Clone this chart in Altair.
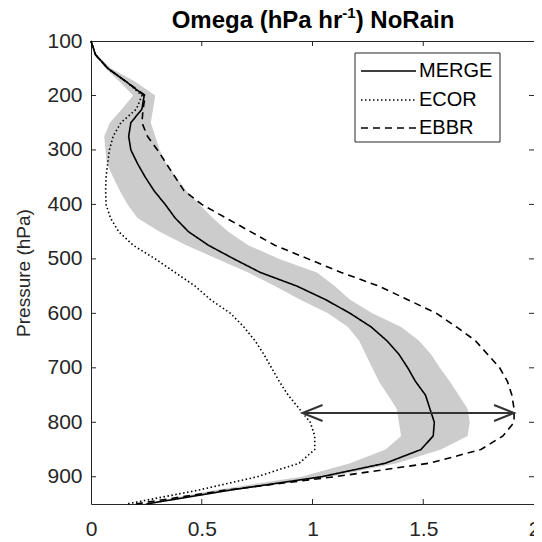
import altair as alt
import pandas as pd

FONT = "Liberation Sans"

pressure = [100, 125, 150, 175, 200, 225, 250, 275, 300, 325, 350, 375, 400, 425, 450,
            475, 500, 525, 550, 575, 600, 625, 650, 675, 700, 725, 750, 775, 800, 825,
            850, 875, 900, 925, 950]
merge = [0.0, 0.02, 0.075, 0.16, 0.24, 0.23, 0.18, 0.17, 0.18, 0.21, 0.245, 0.285, 0.335, 0.38, 0.44,
         0.53, 0.645, 0.765, 0.93, 1.06, 1.17, 1.265, 1.335, 1.39, 1.43, 1.465, 1.51, 1.53, 1.55, 1.545,
         1.49, 1.33, 1.04, 0.62, 0.25]
merge_lo = [0.0, 0.015, 0.065, 0.13, 0.19, 0.14, 0.085, 0.06, 0.065, 0.072, 0.10, 0.13, 0.165, 0.21, 0.31,
            0.43, 0.57, 0.71, 0.83, 0.945, 1.07, 1.16, 1.21, 1.24, 1.27, 1.30, 1.34, 1.38, 1.39, 1.40,
            1.33, 1.17, 0.95, 0.55, 0.23]
merge_hi = [0.0, 0.025, 0.09, 0.20, 0.29, 0.28, 0.27, 0.29, 0.31, 0.34, 0.385, 0.43, 0.49, 0.55, 0.62,
            0.71, 0.85, 1.02, 1.10, 1.17, 1.27, 1.40, 1.48, 1.535, 1.575, 1.62, 1.66, 1.70, 1.71, 1.70,
            1.58, 1.38, 1.08, 0.64, 0.26]
ecor = [0.0, 0.02, 0.075, 0.16, 0.23, 0.205, 0.135, 0.10, 0.083, 0.075, 0.068, 0.066, 0.068, 0.088, 0.125,
        0.19, 0.29, 0.38, 0.47, 0.54, 0.63, 0.69, 0.74, 0.78, 0.815, 0.85, 0.89, 0.94, 0.99, 1.01,
        1.01, 0.94, 0.75, 0.48, 0.16]
ebbr = [0.0, 0.02, 0.075, 0.16, 0.245, 0.235, 0.23, 0.255, 0.30, 0.34, 0.38, 0.42, 0.50, 0.61, 0.72,
        0.83, 0.98, 1.13, 1.30, 1.43, 1.56, 1.65, 1.735, 1.79, 1.845, 1.88, 1.90, 1.91, 1.91, 1.86,
        1.76, 1.53, 1.10, 0.60, 0.20]

series_names = ["MERGE", "ECOR", "EBBR"]
series_dashes = [[1, 0], [1.5, 2.5], [7, 5]]
x_ticks = [0, 0.5, 1, 1.5, 2]
x_inner_ticks = [0.5, 1, 1.5]
y_ticks = [100, 200, 300, 400, 500, 600, 700, 800, 900]
y_inner_ticks = [200, 300, 400, 500, 600, 700, 800, 900]
arrow_p = [783]
arrow_x_start = [0.955]
arrow_x_end = [1.91]
title_parts = ["Omega (hPa hr", "-1", ") NoRain"]

W, H = 443, 463
AX = "#262626"

xs = alt.Scale(domain=[0, 2], nice=False, zero=False)
ys = alt.Scale(domain=[100, 950], reverse=True, nice=False, zero=False)

band_df = pd.DataFrame({"p": pressure, "lo": merge_lo, "hi": merge_hi})
lines_df = pd.concat([
    pd.DataFrame({"p": pressure, "v": vals, "series": name})
    for name, vals in zip(series_names, [merge, ecor, ebbr])
], ignore_index=True)
arrow_df = pd.DataFrame({"p": arrow_p, "x1": arrow_x_start, "x2": arrow_x_end})
xt_df = pd.DataFrame({"xv": x_inner_ticks})
yt_df = pd.DataFrame({"yv": y_inner_ticks})

x_axis = alt.Axis(values=x_ticks, format=".1~f", ticks=False, domain=False, grid=False,
                  labelFontSize=21, labelFont=FONT, labelColor=AX, labelPadding=14,
                  labelFlush=False, title=None)
y_axis = alt.Axis(values=y_ticks, format="d", ticks=False, domain=False, grid=False,
                  labelFontSize=21, labelFont=FONT, labelColor=AX, labelPadding=9,
                  title="Pressure (hPa)", titleFont=FONT, titleFontSize=19,
                  titleFontWeight="normal", titleColor=AX, titlePadding=13)


def X(field):
    return alt.X(field, scale=xs, axis=x_axis)


def Y(field):
    return alt.Y(field, scale=ys, axis=y_axis)


band = alt.Chart(band_df).mark_area(color="#cccccc", orient="horizontal").encode(
    x=X("lo:Q"), x2="hi:Q", y=Y("p:Q"))

lines = alt.Chart(lines_df).mark_line(color="black", strokeWidth=1.6).encode(
    x=X("v:Q"),
    y=Y("p:Q"),
    order="p:Q",
    strokeDash=alt.StrokeDash("series:N", scale=alt.Scale(domain=series_names, range=series_dashes),
                              legend=None),
    detail="series:N",
)

arrow_line = alt.Chart(arrow_df).mark_rule(color="#333333", strokeWidth=2).encode(
    x=X("x1:Q"), x2="x2:Q", y=Y("p:Q"))
arrow_left = alt.Chart(arrow_df).mark_point(shape="M2,-0.8L0,0L2,0.8", filled=False, size=400,
                                            strokeWidth=2, color="#333333", opacity=1).encode(
    x=X("x1:Q"), y=Y("p:Q"))
arrow_right = alt.Chart(arrow_df).mark_point(shape="M-2,-0.8L0,0L-2,0.8", filled=False, size=400,
                                             strokeWidth=2, color="#333333", opacity=1).encode(
    x=X("x2:Q"), y=Y("p:Q"))

TL = 5
tick_layers = [
    alt.Chart(xt_df).mark_rule(color=AX, strokeWidth=1).encode(
        x=X("xv:Q"), y=alt.value(0), y2=alt.value(TL)),
    alt.Chart(xt_df).mark_rule(color=AX, strokeWidth=1).encode(
        x=X("xv:Q"), y=alt.value(H), y2=alt.value(H - TL)),
    alt.Chart(yt_df).mark_rule(color=AX, strokeWidth=1).encode(
        y=Y("yv:Q"), x=alt.value(0), x2=alt.value(TL)),
    alt.Chart(yt_df).mark_rule(color=AX, strokeWidth=1).encode(
        y=Y("yv:Q"), x=alt.value(W), x2=alt.value(W - TL)),
]

one = pd.DataFrame({"a": [0]})

# legend (drawn by hand, MATLAB style box)
LX0, LX1, LY0, LY1 = 264, 409, 12, 101
legend_layers = [alt.Chart(one).mark_rect(fill="white", stroke=AX, strokeWidth=1).encode(
    x=alt.value(LX0), x2=alt.value(LX1), y=alt.value(LY0), y2=alt.value(LY1))]
row_y = [30, 59, 87]
for name, dash, yy in zip(series_names, series_dashes, row_y):
    legend_layers.append(
        alt.Chart(one).mark_rule(color="black", strokeWidth=1.6, strokeDash=dash)
        .encode(x=alt.value(270), x2=alt.value(325), y=alt.value(yy)))
    legend_layers.append(
        alt.Chart(one).mark_text(align="left", baseline="middle", fontSize=20, font=FONT, color="black")
        .encode(x=alt.value(328), y=alt.value(yy), text=alt.value(name)))

# title with a superscript, as three text pieces
TF, SF = 24, 15
main_w = 7.113 * TF
sup_w = 0.889 * SF
tail_w = 4.111 * TF
tx0 = 222 - (main_w + sup_w + tail_w) / 2
title_specs = [
    (title_parts[0], tx0, -13, TF),
    (title_parts[1], tx0 + main_w, -23, SF),
    (title_parts[2], tx0 + main_w + sup_w, -13, TF),
]
title_layers = [
    alt.Chart(one).mark_text(align="left", baseline="alphabetic", fontSize=fs, font=FONT,
                             fontWeight="bold", color="black")
    .encode(x=alt.value(xx), y=alt.value(yy), text=alt.value(txt))
    for txt, xx, yy, fs in title_specs
]

chart = alt.layer(band, lines, arrow_line, arrow_left, arrow_right, *tick_layers, *legend_layers,
                  *title_layers).properties(
    width=W, height=H,
    autosize=alt.AutoSizeParams(type="none"),
    padding={"left": 83, "top": 33, "right": 0, "bottom": 40},
    background="white",
).configure_view(stroke=AX, strokeWidth=1)

chart.save("out.html", embed_options={"renderer": "svg", "actions": False})
